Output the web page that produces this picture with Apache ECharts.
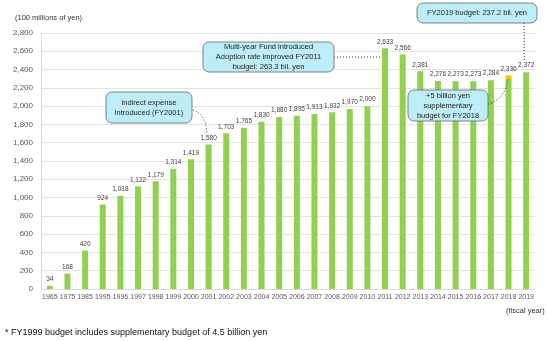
<!DOCTYPE html>
<html>
<head>
<meta charset="utf-8">
<script src="https://cdn.jsdelivr.net/npm/echarts@6/dist/echarts.min.js"></script>
<style>
  html, body { margin: 0; padding: 0; background: #fff; }
  #chart { width: 548px; height: 341px; }
</style>
</head>
<body>
<div id="chart"></div>
<script>
// Research grant budget by fiscal year (100 millions of yen)
const years = ['1965','1975','1985','1995','1996','1997','1998','1999','2000','2001','2002','2003','2004','2005','2006','2007','2008','2009','2010','2011','2012','2013','2014','2015','2016','2017','2018','2019'];
const baseBudget = [34,168,420,924,1018,1122,1179,1314,1419,1580,1703,1765,1830,1880,1895,1913,1932,1970,2000,2633,2566,2381,2276,2273,2273,2284,2286,2372];
const supplementary = [0,0,0,0,0,0,0,0,0,0,0,0,0,0,0,0,0,0,0,0,0,0,0,0,0,0,50,0];
const yTicks = { min: 0, max: 2800, step: 200 };

const totals = baseBudget.map((v, i) => v + supplementary[i]);
const fmt = v => v.toLocaleString('en-US');

const FONT = 'Liberation Sans, Arial, sans-serif';
const chart = echarts.init(document.getElementById('chart'));

const option = {
  animation: false,
  backgroundColor: '#ffffff',
  grid: { left: 41, right: 13, top: 33, bottom: 52 },
  xAxis: {
    type: 'category',
    data: years,
    axisLine: { lineStyle: { color: '#d9d9d9' } },
    axisTick: { show: false },
    axisLabel: { interval: 0, fontSize: 7, color: '#595959', margin: 5, fontFamily: FONT }
  },
  yAxis: {
    type: 'value',
    min: yTicks.min, max: yTicks.max, interval: yTicks.step,
    axisLine: { show: true, lineStyle: { color: '#d9d9d9' } },
    axisTick: { show: false },
    splitLine: { lineStyle: { color: '#e3e3e3' } },
    axisLabel: { fontSize: 8, color: '#595959', margin: 8, fontFamily: FONT, formatter: v => fmt(v) }
  },
  series: [
    {
      type: 'bar', stack: 'b', data: baseBudget, barWidth: 6,
      itemStyle: { color: '#92d050' }
    },
    {
      type: 'bar', stack: 'b', data: supplementary, barWidth: 6,
      itemStyle: { color: '#ffc000' },
      label: {
        show: true, position: 'top', distance: 3,
        fontSize: 6.5, color: '#404040', fontFamily: FONT,
        formatter: p => fmt(totals[p.dataIndex])
      }
    }
  ]
};
chart.setOption(option);

// Annotation boxes and their dotted leader lines
const px = (cat, val) => chart.convertToPixel({ gridIndex: 0 }, [cat, val]);
const boxStyle = { fill: '#bdeef7', stroke: '#666666', lineWidth: 0.8 };
const dotted = { stroke: '#333', lineWidth: 1, lineDash: [1, 2], fill: null };

function callout(x, y, w, h, lines) {
  return [
    { type: 'rect', shape: { x, y, width: w, height: h, r: 6 }, style: boxStyle, z: 10 },
    {
      type: 'text', x: x + w / 2, y: y + h / 2, z: 11,
      style: {
        text: lines.join('\n'), align: 'center', verticalAlign: 'middle',
        font: '7.5px ' + FONT, fill: '#222', lineHeight: 10
      }
    }
  ];
}

const p2001 = px('2001', totals[9]);
const p2011 = px('2011', totals[19]);
const p2018 = px('2018', totals[26]);
const p2019 = px('2019', totals[27]);

const graphics = [
  { type: 'text', x: 15, y: 14, style: { text: '(100 millions of yen)', font: '7.5px ' + FONT, fill: '#333' } },
  { type: 'text', x: 506, y: 307, style: { text: '(fiscal year)', font: '7.5px ' + FONT, fill: '#333' } },
  { type: 'text', x: 5, y: 328, style: { text: '* FY1999 budget includes supplementary budget of 4.5 billion yen', font: '9px ' + FONT, fill: '#111' } },

  { type: 'bezierCurve', z: 9, shape: { x1: 193, y1: 110, cpx1: 206, cpy1: 114, x2: p2001[0] - 2, y2: p2001[1] - 12 }, style: dotted },
  { type: 'line', z: 9, shape: { x1: 334, y1: 57, x2: p2011[0] - 5, y2: 57 }, style: dotted },
  { type: 'line', z: 9, shape: { x1: p2019[0] - 2, y1: 23, x2: p2019[0] - 2, y2: p2019[1] - 12 }, style: dotted },
  { type: 'bezierCurve', z: 9, shape: { x1: 488, y1: 104, cpx1: 505, cpy1: 100, x2: p2018[0], y2: p2018[1] + 2 }, style: dotted },

  ...callout(106, 92, 86, 31, ['indirect expense', 'introduced (FY2001)']),
  ...callout(203, 42, 131, 30, ['Multi-year Fund introduced', 'Adoption rate improved FY2011', 'budget: 263.3 bil. yen']),
  ...callout(417, 3, 120, 20, ['FY2019 budget: 237.2 bil. yen']),
  ...callout(408, 90, 80, 31, ['+5 billion yen', 'supplementary', 'budget for FY2018'])
];
chart.setOption({ graphic: graphics });
</script>
</body>
</html>
